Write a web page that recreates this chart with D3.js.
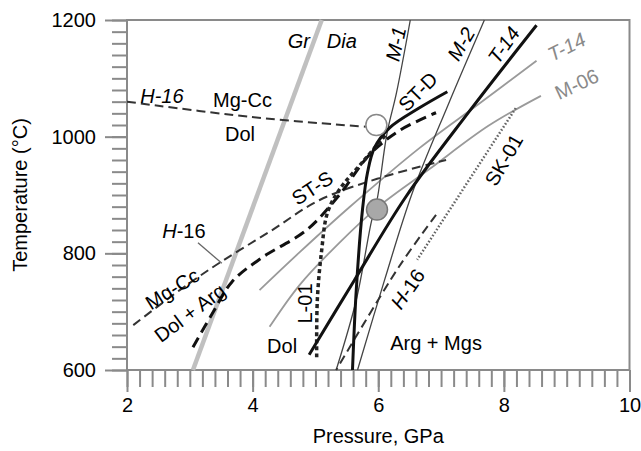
<!DOCTYPE html>
<html>
<head>
<meta charset="utf-8">
<script src="https://cdn.jsdelivr.net/npm/d3@7"></script>
<style>
body { margin: 0; background: #fff; }
text { font-family: "Liberation Sans", Arial, Helvetica, sans-serif; }
</style>
</head>
<body>
<div id="chart"></div>
<script>
// phase boundaries, [pressure GPa, temperature C]
var grDia = [[3.05, 600], [5.1, 1200]];
var h16Solvus = [[2.0, 1060], [3.95, 1034], [5.8, 1017]];
var h16MgCc = [[2.1, 677], [2.84, 737], [3.49, 785], [4.27, 837], [5.06, 891], [6.02, 929], [7.08, 960]];
var h16DolOut = [[6.92, 866], [6.33, 777], [5.33, 600]];
var stS = [[3.05, 639], [3.37, 699], [3.67, 751], [4.14, 792], [4.86, 840], [5.38, 900], [5.86, 969], [6.33, 1010], [6.92, 1041]];
var stD = [[5.59, 600], [5.65, 737], [5.75, 876], [5.83, 939], [5.94, 981], [6.18, 1015], [6.65, 1049], [7.1, 1077]];
var l01 = [[5.02, 622], [5.03, 720], [5.1, 806], [5.19, 869], [5.38, 909], [5.78, 960], [6.14, 1006]];
var t14 = [[4.9, 626], [5.62, 754], [6.44, 897], [7.44, 1042], [8.52, 1191]];
var m1 = [[6.51, 1200], [6.29, 1075], [6.14, 1006], [5.98, 891], [5.89, 854], [5.65, 720], [5.33, 600]];
var m2 = [[7.69, 1200], [7.11, 1054], [6.54, 903], [6.1, 754], [5.67, 600]];
var sk01 = [[8.19, 1049], [6.62, 789]];
var t14Melt = [[4.11, 737], [4.75, 802], [5.54, 879], [6.65, 980], [7.6, 1056], [8.52, 1130]];
var m06 = [[4.27, 674], [4.75, 746], [5.38, 818], [5.98, 878], [6.81, 944], [7.76, 1019], [8.59, 1070]];

// experiments
var openPt = [[5.97, 1020]];
var filledPt = [[5.98, 875]];

// axes
var xMajor = [2, 4, 6, 8, 10];
var yMajor = [600, 800, 1000, 1200];

var width = 641, height = 451;
var margin = {top: 20, right: 11.5, bottom: 81, left: 127};

var svg = d3.select("#chart").append("svg")
	.attr("width", width)
	.attr("height", height);

var x = d3.scaleLinear().domain([2, 10]).range([margin.left, width - margin.right]);
var y = d3.scaleLinear().domain([600, 1200]).range([height - margin.bottom, margin.top]);

var axisColor = "#8a8a8a";
var fs = "20px";

// minor ticks
var xMinor = d3.range(2, 10.001, 0.2).map(function(d) { return +d.toFixed(1); });
var yMinor = d3.range(600, 1201, 20);

var gx = svg.append("g").attr("transform", "translate(0," + y(600) + ")");
gx.append("g").call(d3.axisBottom(x).tickValues(xMinor).tickSize(17).tickFormat(""));
gx.append("g").call(d3.axisBottom(x).tickValues(xMajor).tickSize(22).tickPadding(6).tickFormat(d3.format("d")));

var gy = svg.append("g").attr("transform", "translate(" + x(2) + ",0)");
gy.append("g").call(d3.axisLeft(y).tickValues(yMinor).tickSize(15).tickFormat(""));
gy.append("g").call(d3.axisLeft(y).tickValues(yMajor).tickSize(22).tickPadding(9).tickFormat(d3.format("d")));

svg.selectAll(".domain").remove();
svg.selectAll(".tick line").attr("stroke", axisColor).attr("stroke-width", 2);
svg.selectAll(".tick text")
	.attr("fill", "#000")
	.style("font-size", fs)
	.style("font-family", "'Liberation Sans', Arial, sans-serif");

// frame
svg.append("rect")
	.attr("x", x(2))
	.attr("y", y(1200))
	.attr("width", x(10) - x(2))
	.attr("height", y(600) - y(1200))
	.attr("fill", "none")
	.attr("stroke", axisColor)
	.attr("stroke-width", 2);

// axis titles
svg.append("text")
	.attr("x", (x(2) + x(10)) / 2)
	.attr("y", 443)
	.attr("text-anchor", "middle")
	.style("font-size", fs)
	.text("Pressure, GPa");

svg.append("text")
	.attr("transform", "translate(27," + (y(900)) + ") rotate(-90)")
	.attr("text-anchor", "middle")
	.style("font-size", fs)
	.text("Temperature (°C)");

var line = d3.line()
	.x(function(d) { return x(d[0]); })
	.y(function(d) { return y(d[1]); })
	.curve(d3.curveCatmullRom.alpha(0.5));

var curves = [
	{d: grDia, stroke: "#c0c0c0", w: 4.5, dash: null},
	{d: t14Melt, stroke: "#9a9a9a", w: 1.8, dash: null},
	{d: m06, stroke: "#9a9a9a", w: 1.8, dash: null},
	{d: sk01, stroke: "#666", w: 2.5, dash: "1.6,2"},
	{d: m1, stroke: "#444", w: 1.3, dash: null},
	{d: m2, stroke: "#444", w: 1.3, dash: null},
	{d: h16Solvus, stroke: "#333", w: 2, dash: "9,5"},
	{d: h16MgCc, stroke: "#333", w: 2, dash: "9,5"},
	{d: h16DolOut, stroke: "#333", w: 2, dash: "9,5"},
	{d: stS, stroke: "#111", w: 3, dash: "11,6"},
	{d: l01, stroke: "#222", w: 3.5, dash: "4,3"},
	{d: t14, stroke: "#111", w: 3, dash: null},
	{d: stD, stroke: "#111", w: 3, dash: null}
];

svg.append("g")
	.selectAll("path")
	.data(curves)
	.enter().append("path")
	.attr("d", function(c) { return line(c.d); })
	.attr("fill", "none")
	.attr("stroke", function(c) { return c.stroke; })
	.attr("stroke-width", function(c) { return c.w; })
	.attr("stroke-dasharray", function(c) { return c.dash; })
	.attr("stroke-linecap", "butt");

// experimental points
svg.selectAll(".open")
	.data(openPt)
	.enter().append("circle")
	.attr("cx", function(d) { return x(d[0]); })
	.attr("cy", function(d) { return y(d[1]); })
	.attr("r", 10.5)
	.attr("fill", "#fff")
	.attr("stroke", "#888")
	.attr("stroke-width", 1.5);

svg.selectAll(".filled")
	.data(filledPt)
	.enter().append("circle")
	.attr("cx", function(d) { return x(d[0]); })
	.attr("cy", function(d) { return y(d[1]); })
	.attr("r", 10.5)
	.attr("fill", "#a8a8a8")
	.attr("stroke", "#777")
	.attr("stroke-width", 1.5);

// leader for H-16
svg.append("line")
	.attr("x1", x(3.13)).attr("y1", y(818))
	.attr("x2", x(3.51)).attr("y2", y(783))
	.attr("stroke", "#666")
	.attr("stroke-width", 1.3);

// labels placed in P-T space
var notes = [
	{t: "H-16", p: 2.21, T: 1058, r: 0, a: "start", it: "all"},
	{t: "Mg-Cc", p: 3.37, T: 1051, r: 0, a: "start"},
	{t: "Dol", p: 3.56, T: 993, r: 0, a: "start"},
	{t: "Gr", p: 4.56, T: 1152, r: 0, a: "start", it: "all"},
	{t: "Dia", p: 5.18, T: 1152, r: 0, a: "start", it: "all"},
	{t: "M-1", p: 6.28, T: 1159, r: -78, a: "middle", it: "all"},
	{t: "M-2", p: 7.32, T: 1159, r: -60, a: "middle", it: "all"},
	{t: "T-14", p: 8.0, T: 1157, r: -55, a: "middle", it: "all"},
	{t: "T-14", p: 9.0, T: 1154, r: -27, a: "middle", it: "all", c: "#8a8a8a"},
	{t: "M-06", p: 9.16, T: 1090, r: -25, a: "middle", c: "#8a8a8a"},
	{t: "ST-D", p: 6.63, T: 1077, r: -45, a: "middle"},
	{t: "ST-S", p: 4.95, T: 912, r: -33, a: "middle"},
	{t: "SK-01", p: 8.0, T: 960, r: -60, a: "middle"},
	{t: "H-16", p: 6.47, T: 739, r: -55, a: "middle", it: "H"},
	{t: "H-16", p: 2.56, T: 826, r: 0, a: "start", it: "H"},
	{t: "Mg-Cc", p: 2.72, T: 739, r: -32, a: "middle"},
	{t: "Dol + Arg", p: 3.0, T: 698, r: -37, a: "middle"},
	{t: "L-01", p: 4.84, T: 714, r: -90, a: "middle"},
	{t: "Dol", p: 4.23, T: 629, r: 0, a: "start"},
	{t: "Arg + Mgs", p: 6.19, T: 634, r: 0, a: "start"}
];

var label = svg.append("g")
	.selectAll("text")
	.data(notes)
	.enter().append("text")
	.attr("transform", function(d) {
		return "translate(" + x(d.p) + "," + y(d.T) + ") rotate(" + d.r + ")";
	})
	.attr("text-anchor", function(d) { return d.a; })
	.attr("dy", function(d) { return d.a == "middle" ? "0.35em" : null; })
	.attr("fill", function(d) { return d.c || "#000"; })
	.style("font-size", fs)
	.style("font-style", function(d) { return d.it == "all" ? "italic" : "normal"; });

label.each(function(d) {
	var el = d3.select(this);
	if (d.it == "H") {
		el.append("tspan").style("font-style", "italic").text("H");
		el.append("tspan").text(d.t.slice(1));
	} else {
		el.text(d.t);
	}
});
</script>
</body>
</html>
